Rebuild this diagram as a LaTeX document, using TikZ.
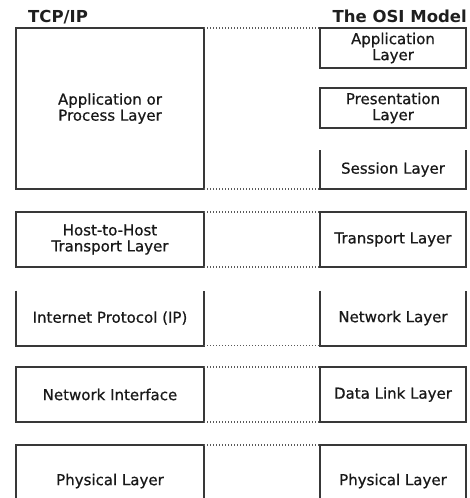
\documentclass[tikz,border=0pt]{standalone}
\usepackage{fontspec}
\setmainfont{DejaVu Sans}
\newfontfamily\medfont[FakeBold=0.7]{DejaVu Sans}
\begin{document}
\begin{tikzpicture}[x=1pt,y=-1pt,
  lay/.style={inner sep=0pt,outer sep=0pt,align=center,font=\medfont\fontsize{15}{16}\selectfont,text=black!90},
  lft/.style={lay,minimum width=188pt},
  rgt/.style={lay,minimum width=146pt},
  edge/.style={draw=black!78,line width=2pt},
  conn/.style={draw=black!65,line width=1.3pt,dash pattern=on 1.4pt off 1.6pt},
  ttl/.style={inner sep=0pt,font=\bfseries\fontsize{16.5}{18}\selectfont,text=black!88}]
\useasboundingbox (0,0) rectangle (469,498);
\clip (0,0) rectangle (469,498);
% titles
\node[ttl,anchor=base west] (tcp) at (28,22) {TCP/IP};
\node[ttl,anchor=base east] (osi) at (467,22) {The OSI Model};
% left column
\node[lft,minimum height=161pt] (la) at (110,108.5) {Application or\\Process Layer};
\node[lft,minimum height=55pt] (lt) at (110,239.5) {Host-to-Host\\Transport Layer};
\node[lft,minimum height=55pt] (ln) at (110,318) {Internet Protocol (IP)};
\node[lft,minimum height=55pt] (ld) at (110,394.5) {Network Interface};
\node[lft,minimum height=72pt] (lp) at (110,481) {Physical Layer};
% right column
\node[rgt,minimum height=40pt] (ra) at (393,48) {Application\\Layer};
\node[rgt,minimum height=40pt] (rpr) at (393,108) {Presentation\\Layer};
\node[rgt,minimum height=39pt] (rs) at (393,169.5) {Session Layer};
\node[rgt,minimum height=55pt] (rt) at (393,239.5) {Transport Layer};
\node[rgt,minimum height=55pt] (rn) at (393,318) {Network Layer};
\node[rgt,minimum height=55pt] (rd) at (393,394.5) {Data Link Layer};
\node[rgt,minimum height=72pt] (rp) at (393,481) {Physical Layer};
% borders
\draw[edge] (la.north west) rectangle (la.south east);
\draw[edge] (lt.north west) rectangle (lt.south east);
\draw[edge] (ln.north west) -- (ln.south west) -- (ln.south east) -- (ln.north east);
\draw[edge] (ld.north west) rectangle (ld.south east);
\draw[edge] (lp.south west) -- (lp.north west) -- (lp.north east) -- (lp.south east);
\draw[edge] (ra.north west) rectangle (ra.south east);
\draw[edge] (rpr.north west) rectangle (rpr.south east);
\draw[edge] (rs.north west) -- (rs.south west) -- (rs.south east) -- (rs.north east);
\draw[edge] (rt.north west) rectangle (rt.south east);
\draw[edge] (rn.north west) -- (rn.south west) -- (rn.south east) -- (rn.north east);
\draw[edge] (rd.north west) rectangle (rd.south east);
\draw[edge] (rp.south west) -- (rp.north west) -- (rp.north east) -- (rp.south east);
% dotted connectors
\draw[conn] (la.north east) -- (ra.north west);
\draw[conn] (la.south east) -- (rs.south west);
\draw[conn] (lt.north east) -- (rt.north west);
\draw[conn] (lt.south east) -- (rt.south west);
\draw[conn] (ln.south east) -- (rn.south west);
\draw[conn] (ld.north east) -- (rd.north west);
\draw[conn] (ld.south east) -- (rd.south west);
\draw[conn] (lp.north east) -- (rp.north west);
\end{tikzpicture}
\end{document}
